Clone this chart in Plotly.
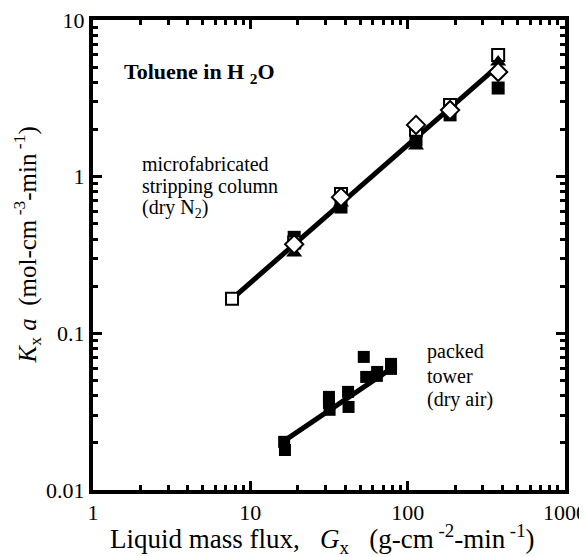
import plotly.graph_objects as go

# Microfabricated stripping column (dry N2)
mf_open_sq_x = [7.65, 19, 37.7, 113, 186, 376]
mf_open_sq_y = [0.166, 0.38, 0.776, 1.99, 2.87, 5.98]
mf_fill_sq_x = [19, 37.7, 113, 186, 376]
mf_fill_sq_y = [0.41, 0.64, 1.71, 2.48, 3.68]
mf_tri_x = [19, 37.7, 113, 186, 376]
mf_tri_y = [0.326, 0.68, 1.57, 2.74, 5.39]
mf_dia_x = [19, 37.7, 113, 186, 376]
mf_dia_y = [0.37, 0.74, 2.14, 2.66, 4.66]
mf_fit_x = [7.65, 376]
mf_fit_y = [0.166, 5.1]

# Packed tower (dry air)
pt_x = [16.4, 16.6, 31.6, 31.6, 31.9, 41.8, 42.1, 52.6, 54.5, 63.7, 64.0, 78.4, 78.4]
pt_y = [0.0203, 0.0180, 0.0393, 0.0360, 0.0325, 0.0423, 0.0339, 0.0707, 0.0527, 0.0535, 0.0567, 0.0638, 0.0593]
pt_fit_x = [16.4, 78.4]
pt_fit_y = [0.0206, 0.0595]

x_tickvals = [1, 10, 100, 1000]
x_ticktext = ["1", "10", "100", "1000"]
y_tickvals = [0.01, 0.1, 1, 10]
y_ticktext = ["0.01", "0.1", "1", "10"]

mf_label_lines = ["microfabricated", "stripping column", "(dry N<sub>2</sub>)"]
pt_label_lines = ["packed", "tower", "(dry air)"]

FONT = "Liberation Serif"
fig = go.Figure()

fig.add_trace(go.Scatter(x=mf_fit_x, y=mf_fit_y, mode="lines",
                         line=dict(color="black", width=5), showlegend=False))
fig.add_trace(go.Scatter(x=pt_fit_x, y=pt_fit_y, mode="lines",
                         line=dict(color="black", width=5), showlegend=False))
fig.add_trace(go.Scatter(x=pt_x, y=pt_y, mode="markers",
                         marker=dict(symbol="square", size=12, color="black"), showlegend=False))
fig.add_trace(go.Scatter(x=mf_fill_sq_x, y=mf_fill_sq_y, mode="markers",
                         marker=dict(symbol="square", size=13, color="black"), showlegend=False))
fig.add_trace(go.Scatter(x=mf_open_sq_x, y=mf_open_sq_y, mode="markers",
                         marker=dict(symbol="square", size=12, color="white",
                                     line=dict(color="black", width=2)), showlegend=False))
fig.add_trace(go.Scatter(x=mf_tri_x, y=mf_tri_y, mode="markers",
                         marker=dict(symbol="triangle-up", size=14, color="black"), showlegend=False))
fig.add_trace(go.Scatter(x=mf_dia_x, y=mf_dia_y, mode="markers",
                         marker=dict(symbol="diamond", size=14, color="white",
                                     line=dict(color="black", width=2)), showlegend=False))

axis_common = dict(
    type="log", showline=True, linecolor="black", linewidth=4, mirror="ticks",
    ticks="inside", ticklen=9, tickwidth=3, tickcolor="black",
    showgrid=False, zeroline=False, automargin=False, ticklabeloverflow="allow",
    tickfont=dict(family=FONT, size=22, color="black"),
    minor=dict(ticks="inside", ticklen=5, tickwidth=3, tickcolor="black", dtick="D1", showgrid=False),
)

fig.update_xaxes(range=[0, 3], tickvals=x_tickvals, ticktext=x_ticktext, **axis_common)
fig.update_yaxes(range=[-2, 1], tickvals=y_tickvals, ticktext=y_ticktext, **axis_common)

# axis titles
fig.add_annotation(x=0.487, y=-0.104, xref="paper", yref="paper", xanchor="center", yanchor="middle",
                   text="Liquid mass flux,   <i>G</i><sub>x</sub>   (g-cm<sup> -2</sup>-min<sup> -1</sup>)",
                   showarrow=False, font=dict(family=FONT, size=27, color="black"))
fig.add_annotation(x=-0.139, y=0.521, xref="paper", yref="paper", xanchor="center", yanchor="middle",
                   textangle=-90,
                   text="<i>K</i><sub>x</sub> <i>a</i>  (mol-cm<sup> -3</sup>-min<sup> -1</sup>)",
                   showarrow=False, font=dict(family=FONT, size=25, color="black"))

fig.add_annotation(x=0.061, y=0.887, xref="paper", yref="paper", xanchor="left", yanchor="middle",
                   text="<b>Toluene in H <sub>2</sub>O</b>", showarrow=False,
                   font=dict(family=FONT, size=22, color="black"))

mf_label_y = [0.6936, 0.6447, 0.5979]
for txt, yy in zip(mf_label_lines, mf_label_y):
    fig.add_annotation(x=0.0996, y=yy, xref="paper", yref="paper", xanchor="left", yanchor="middle",
                       text=txt, showarrow=False, font=dict(family=FONT, size=20, color="black"))
pt_label_y = [0.2957, 0.2426, 0.1936]
for txt, yy in zip(pt_label_lines, pt_label_y):
    fig.add_annotation(x=0.7034, y=yy, xref="paper", yref="paper", xanchor="left", yanchor="middle",
                       text=txt, showarrow=False, font=dict(family=FONT, size=20, color="black"))

fig.update_layout(width=579, height=549, margin=dict(l=85, r=22, t=12, b=67),
                  plot_bgcolor="white", paper_bgcolor="white",
                  font=dict(family=FONT, color="black"))

fig.write_html("out.html")
